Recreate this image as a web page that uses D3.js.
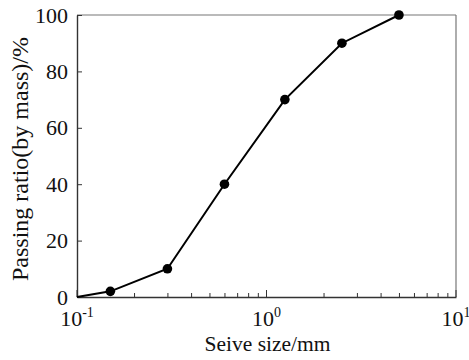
<!DOCTYPE html>
<html>
<head>
<meta charset="utf-8">
<script src="https://cdn.jsdelivr.net/npm/d3@7"></script>
</head>
<body style="margin:0;background:#fff">
<div id="chart"></div>
<script>
// sieve sizes (mm) and passing ratio (%)
const sizes = [0.1, 0.15, 0.3, 0.6, 1.25, 2.5, 5];
const passing = [0, 2, 10, 40, 70, 90, 100];
const markerFrom = 1; // first point has no marker
const yTicks = [0, 20, 40, 60, 80, 100];
const xDecades = [-1, 0, 1];

const W = 469, H = 360;
const m = { left: 77, right: 13, top: 15, bottom: 63 };
const FONT = "Liberation Serif";

const svg = d3.select("#chart").append("svg")
    .attr("width", W).attr("height", H)
    .attr("font-family", FONT);

const x = d3.scaleLog().domain([0.1, 10]).range([m.left, W - m.right]);
const y = d3.scaleLinear().domain([0, 100]).range([H - m.bottom, m.top]);

// frame: top/right lighter
svg.append("line")
    .attr("x1", x(0.1)).attr("x2", x(10)).attr("y1", y(100)).attr("y2", y(100))
    .attr("stroke", "#777").attr("stroke-width", 1.2);
svg.append("line")
    .attr("x1", x(10)).attr("x2", x(10)).attr("y1", y(0)).attr("y2", y(100))
    .attr("stroke", "#777").attr("stroke-width", 1.2);

// y axis, ticks inward
const yAxis = svg.append("g")
    .attr("transform", `translate(${m.left},0)`)
    .call(d3.axisLeft(y).tickValues(yTicks).tickSizeInner(-5).tickSizeOuter(0).tickPadding(9));
yAxis.attr("font-family", FONT).attr("font-size", 22);
yAxis.select(".domain").attr("stroke", "#333").attr("stroke-width", 1.4);
yAxis.selectAll(".tick line").attr("stroke", "#333");
yAxis.selectAll(".tick text")
    .attr("fill", "#111")
    .attr("font-family", FONT).attr("font-size", 22);

// x axis, log ticks inward
const minor = [];
xDecades.slice(0, -1).forEach(e => {
    for (let k = 2; k <= 9; k++) minor.push(k * Math.pow(10, e));
});
const xAxis = svg.append("g")
    .attr("transform", `translate(0,${H - m.bottom})`)
    .call(d3.axisBottom(x).tickValues(minor).tickSizeInner(-4).tickSizeOuter(0).tickFormat(""));
xAxis.attr("font-family", FONT);
xAxis.select(".domain").attr("stroke", "#333").attr("stroke-width", 1.4);
xAxis.selectAll(".tick line").attr("stroke", "#333");

const majors = xAxis.selectAll(".major")
    .data(xDecades)
    .join("g")
    .attr("class", "major")
    .attr("transform", d => `translate(${x(Math.pow(10, d))},0)`);
majors.append("line")
    .attr("y2", -7).attr("stroke", "#333");
const lbl = majors.append("text")
    .attr("y", 29)
    .attr("text-anchor", "middle")
    .attr("fill", "#111")
    .attr("font-family", FONT)
    .attr("font-size", 22);
lbl.append("tspan").text("10");
lbl.append("tspan")
    .attr("dy", -9).attr("font-size", 14)
    .text(d => d);

// data line and markers
const pts = sizes.map((s, i) => ({ s: s, p: passing[i] }));
svg.append("path")
    .datum(pts)
    .attr("fill", "none")
    .attr("stroke", "#000")
    .attr("stroke-width", 2)
    .attr("d", d3.line().x(d => x(d.s)).y(d => y(d.p)));

svg.selectAll("circle")
    .data(pts.slice(markerFrom))
    .join("circle")
    .attr("cx", d => x(d.s))
    .attr("cy", d => y(d.p))
    .attr("r", 4.8)
    .attr("fill", "#000");

// axis titles
svg.append("text")
    .attr("x", (m.left + W - m.right) / 2 + 1)
    .attr("y", 351)
    .attr("text-anchor", "middle")
    .attr("fill", "#111")
    .attr("font-family", FONT)
    .attr("font-size", 21.5)
    .text("Seive size/mm");

svg.append("text")
    .attr("transform", `translate(28,159) rotate(-90)`)
    .attr("text-anchor", "middle")
    .attr("fill", "#111")
    .attr("font-family", FONT)
    .attr("font-size", 24)
    .text("Passing ratio(by mass)/%");
</script>
</body>
</html>
